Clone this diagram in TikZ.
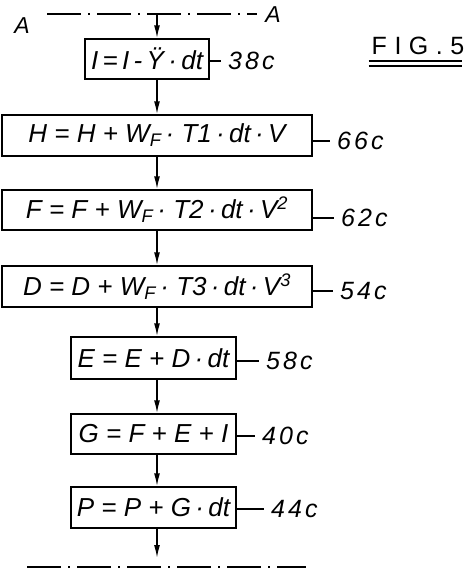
\documentclass[tikz,border=0pt]{standalone}
\usepackage{fontspec}
\setmainfont{Liberation Sans}
\usetikzlibrary{arrows.meta}

\begin{document}
\begin{tikzpicture}[x=1pt,y=-1pt,
box/.style={draw,line width=1.5pt,inner sep=0pt,font=\fontsize{26}{28}\selectfont\itshape},
flow/.style={line width=1.5pt,-{Latex[length=13pt,width=6pt]}},
tick/.style={line width=1.2pt},
ref/.style={anchor=west,inner xsep=7pt,inner ysep=0pt,font=\fontsize{25}{27}\selectfont\itshape\addfontfeature{LetterSpace=12}},
axisline/.style={line width=1.5pt,dash pattern=on 34pt off 7pt on 2pt off 7pt}]
\useasboundingbox (0,0) rectangle (474,573);
\coordinate (ax) at (157,0);
\coordinate (tl) at (47,14);
\coordinate (tr) at (257,14);
\coordinate (bl) at (27,567);
\coordinate (br) at (306,567);
\coordinate (bend) at (157,558);
\draw[axisline](tl)--(tr);
\draw[axisline](bl)--(br);
\node[font=\fontsize{23}{25}\selectfont\itshape] (aL) at (22,26){A};
\node[font=\fontsize{23}{25}\selectfont\itshape] (aR) at (273,15){A};

\node[box,minimum width=124pt,minimum height=40pt] (nI) at (147,59){I\,=\,I\,-\,Ÿ\,·\,dt};
\node[box,minimum width=310pt,minimum height=41pt] (nH) at (157,135.5){H = H + W\textsubscript{F}\,· T1\,·\,dt\,·\,V\hspace{28pt}};
\node[box,minimum width=310pt,minimum height=40pt] (nF) at (157,210){F = F + W\textsubscript{F}\,· T2\,·\,dt\,·\,V\textsuperscript{2}};
\node[box,minimum width=310pt,minimum height=41pt] (nD) at (157,286.5){D = D + W\textsubscript{F}\,· T3\,·\,dt\,·\,V\textsuperscript{3}\hspace{8pt}};
\node[box,minimum width=165pt,minimum height=42pt] (nE) at (153.5,358){E = E + D\,·\,dt};
\node[box,minimum width=165pt,minimum height=40pt] (nG) at (153.5,434){G = F + E + I};
\node[box,minimum width=165pt,minimum height=41pt] (nP) at (153.5,507.5){P = P + G\,·\,dt};

\node[ref] (rI) at (221,61){38c};
\node[ref] (rH) at (330,141){66c};
\node[ref] (rF) at (334,218){62c};
\node[ref] (rD) at (333,291){54c};
\node[ref] (rE) at (259,361){58c};
\node[ref] (rG) at (255,436){40c};
\node[ref] (rP) at (264,509){44c};
\foreach \b/\r in {nI/rI,nH/rH,nF/rF,nD/rD,nE/rE,nG/rG,nP/rP}
  \draw[tick] (\r.west -| \b.east) -- (\r.west);

\draw[flow] (ax |- tl) -- (nI.north -| ax);
\draw[flow] (nI.south -| ax) -- (nH.north -| ax);
\draw[flow] (nH.south -| ax) -- (nF.north -| ax);
\draw[flow] (nF.south -| ax) -- (nD.north -| ax);
\draw[flow] (nD.south -| ax) -- (nE.north -| ax);
\draw[flow] (nE.south -| ax) -- (nG.north -| ax);
\draw[flow] (nG.south -| ax) -- (nP.north -| ax);
\draw[flow] (nP.south -| ax) -- (bend);

\node[inner sep=0pt,font=\fontsize{25}{27}\selectfont\addfontfeature{LetterSpace=30}] (fig) at (418,46){FIG.5};
\draw[line width=1.5pt] ([xshift=-3pt,yshift=-6pt]fig.south west) -- ([xshift=-2pt,yshift=-6pt]fig.south east);
\draw[line width=1.5pt] ([xshift=-3pt,yshift=-11pt]fig.south west) -- ([xshift=-2pt,yshift=-11pt]fig.south east);
\end{tikzpicture}
\end{document}
